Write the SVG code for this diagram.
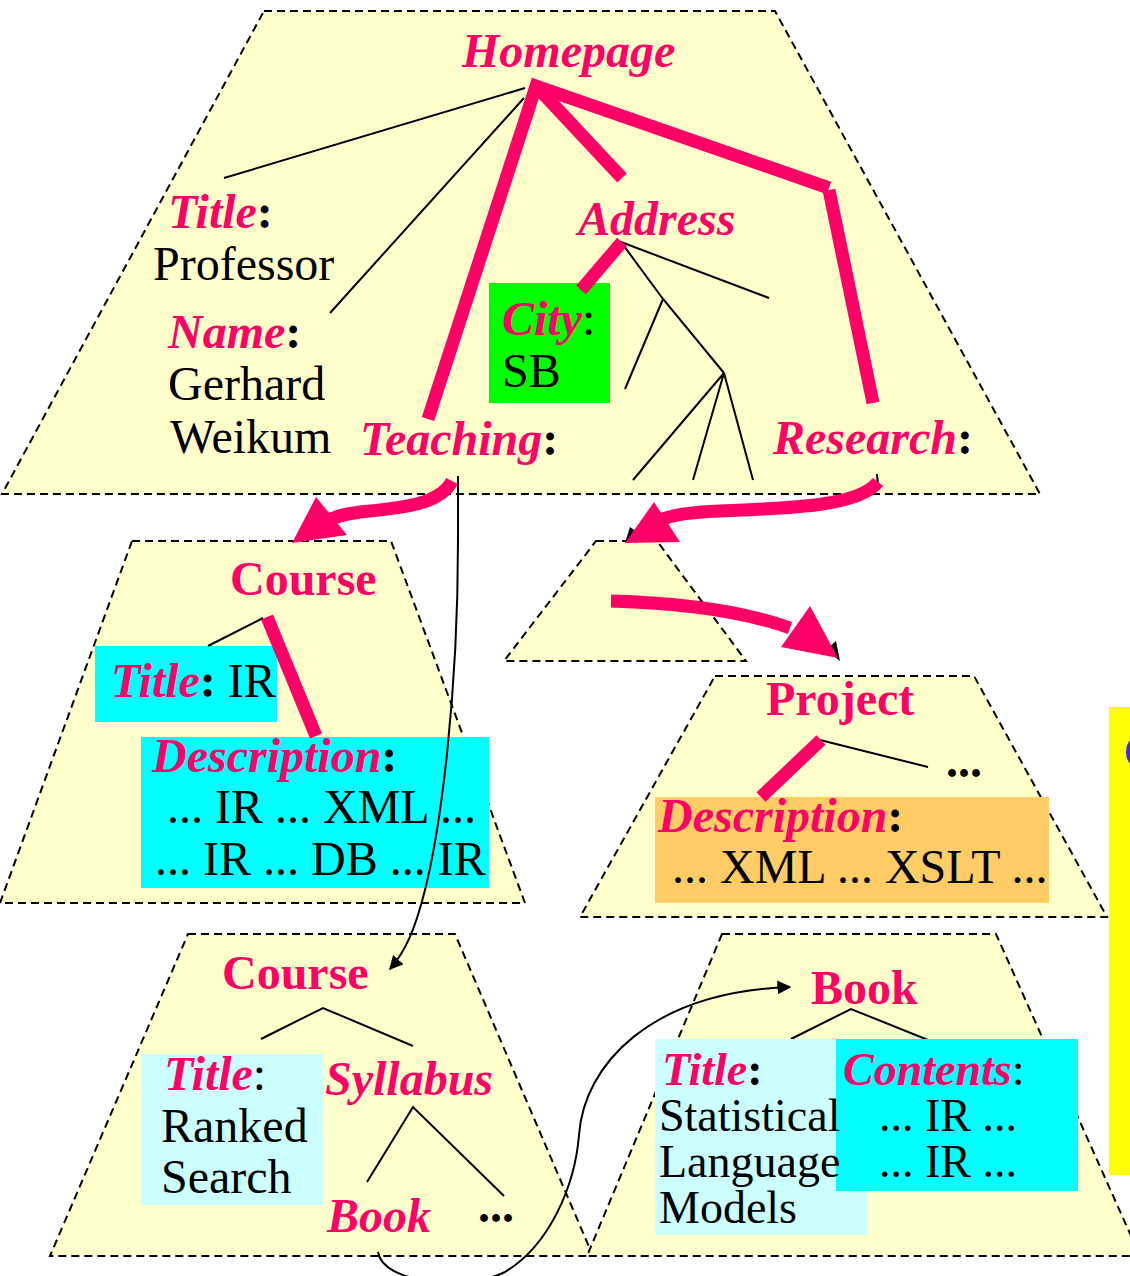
<svg xmlns="http://www.w3.org/2000/svg" width="1130" height="1276" viewBox="0 0 1130 1276">
<defs>
<style>
text{font-family:"Liberation Serif","Times New Roman",serif;font-size:48px;}
.lab{fill:#FF0066;font-weight:bold;font-style:italic;}
.hd{fill:#FF0066;font-weight:bold;}
.tx{fill:#000;}
.b{font-weight:bold;fill:#000;}
.sm{font-size:46px;}
.trap{fill:#FFFFCC;stroke:#000;stroke-width:2;stroke-dasharray:8,5;}
.thin{fill:none;stroke:#000;stroke-width:2;}
.thick{fill:none;stroke:#FF0066;stroke-width:13;}
.parrow{fill:none;stroke:#FF0066;stroke-width:13;}
.ph{fill:#FF0066;}
</style>
<marker id="ah2" viewBox="0 0 10 10" refX="9" refY="5" markerWidth="14" markerHeight="14" markerUnits="userSpaceOnUse" orient="auto"><path d="M0,0 L10,5 L0,10 z" fill="#000"/></marker>
</defs>
<rect x="0" y="0" width="1130" height="1276" fill="#fff"/>

<g id="homepage">
<polygon class="trap" points="264,11 775,11 1040,494 2,494"/>
<text class="lab" x="462" y="67">Homepage</text>
<text x="168" y="228"><tspan class="lab">Title</tspan><tspan class="b">:</tspan></text>
<text class="tx" x="153" y="280">Professor</text>
<text x="168" y="348"><tspan class="lab">Name</tspan><tspan class="b">:</tspan></text>
<text class="tx" x="168" y="400">Gerhard</text>
<text class="tx" x="170" y="453">Weikum</text>
<text x="360" y="455"><tspan class="lab">Teaching</tspan><tspan class="b">:</tspan></text>
<text class="lab" x="578" y="235">Address</text>
<rect x="489" y="283" width="121" height="120" fill="#00FF00"/>
<text x="502" y="335"><tspan class="lab">City</tspan><tspan class="tx">:</tspan></text>
<text class="tx" x="502" y="387">SB</text>
<text x="773" y="454"><tspan class="lab">Research</tspan><tspan class="b">:</tspan></text>
<path class="thin" d="M525,88 L224,178 M524,98 L330,313 M621,242 L769,298 M621,242 L663,299 L724,373 M663,299 L625,389 M724,373 L633,480 M724,373 L693,480 M724,373 L753,480"/>
<path class="thick" d="M428,419 L536,86 L829,188"/>
<path class="thick" d="M536,86 L622,178"/>
<path class="thick" d="M829,190 L873,403"/>
<path class="thick" d="M622,242 L581,290"/>
</g>

<g id="course1">
<polygon class="trap" points="132,541 391,541 525,903 0,903"/>
<text class="hd" x="230" y="595">Course</text>
<rect x="95" y="646" width="182" height="76" fill="#00FFFF"/>
<text x="111" y="697"><tspan class="lab">Title</tspan><tspan class="b">:</tspan><tspan class="tx"> IR</tspan></text>
<rect x="141" y="737" width="348" height="151" fill="#00FFFF"/>
<text x="152" y="772"><tspan class="lab">Description</tspan><tspan class="b">:</tspan></text>
<text class="tx" x="167" y="823">... IR ... XML ...</text>
<text class="tx" x="155" y="875">... IR ... DB ... IR</text>
<path class="thin" d="M263,618 L208,646"/>
<path class="thick" d="M267,617 L316,736"/>
</g>

<g id="research-sub">
<polygon class="trap" points="596,541 657,541 746,661 504,661"/>
</g>

<g id="project">
<polygon class="trap" points="715,676 974,676 1107,917 580,917"/>
<text class="hd" x="766" y="715">Project</text>
<path class="thin" d="M820,740 L928,767"/>
<text class="b" x="946" y="777">...</text>
<rect x="655" y="797" width="394" height="106" fill="#FFCC66"/>
<text x="658" y="832"><tspan class="lab">Description</tspan><tspan class="b">:</tspan></text>
<text class="tx" x="672" y="883">... XML ... XSLT ...</text>
<path class="thick" d="M821,740 L761,797"/>
</g>

<g id="course2">
<polygon class="trap" points="188,934 455,934 593,1256 50,1256"/>
<text class="hd" x="222" y="989">Course</text>
<path class="thin" d="M261,1039 L323,1008 L413,1046"/>
<rect x="141" y="1054" width="182" height="151" fill="#CCFFFF"/>
<text x="164" y="1090"><tspan class="lab">Title</tspan><tspan class="tx">:</tspan></text>
<text class="tx" x="161" y="1142">Ranked</text>
<text class="tx" x="161" y="1193">Search</text>
<text class="lab" x="325" y="1095">Syllabus</text>
<path class="thin" d="M367,1182 L413,1107 L504,1196"/>
<text class="lab" x="327" y="1232">Book</text>
<text class="b" x="478" y="1222">...</text>
</g>

<g id="book">
<polygon class="trap" points="722,934 996,934 1140,1256 587,1256"/>
<text class="hd" x="811" y="1004">Book</text>
<path class="thin" d="M791,1039 L851,1009 L943,1046"/>
<rect x="655" y="1039" width="212" height="196" fill="#CCFFFF"/>
<rect x="836" y="1039" width="242" height="152" fill="#00FFFF"/>
<text class="sm" x="662" y="1085"><tspan class="lab">Title</tspan><tspan class="b">:</tspan></text>
<text class="tx sm" x="659" y="1131">Statistical</text>
<text class="tx sm" x="659" y="1177">Language</text>
<text class="tx sm" x="659" y="1223">Models</text>
<text class="sm" x="843" y="1085"><tspan class="lab">Contents</tspan><tspan class="tx">:</tspan></text>
<text class="tx sm" x="879" y="1131">... IR ...</text>
<text class="tx sm" x="879" y="1177">... IR ...</text>
</g>

<g id="sidebox">
<rect x="1109" y="707" width="30" height="468" fill="#FFFF00"/>
<text x="1124" y="768" fill="#3333CC">C</text>
</g>

<g id="connectors">
<path class="thin" d="M458,476 L458,540 C458,700 440,830 425,890 C415,930 405,952 390,969" marker-end="url(#ah2)"/>
<path class="thin" d="M378,1252 C383,1285 470,1290 505,1272 C550,1245 575,1185 579,1135 C584,1065 650,992 790,987" marker-end="url(#ah2)"/>
<path class="thin" d="M877,474 L878,486"/>
<polygon points="625,543 630,527 641,535" fill="#000"/>
<polygon points="840,661 826,650 836,641" fill="#000"/>
<path class="parrow" d="M452,481 C440,505 400,508 360,512 C345,514 335,516 325,522"/>
<polygon class="ph" points="316,497 347,535 292,543"/>
<path class="parrow" d="M878,482 C860,505 800,508 720,511 C690,512 670,515 658,521"/>
<polygon class="ph" points="654,502 680,542 625,543"/>
<path class="parrow" d="M611,601 C680,603 740,610 790,628"/>
<polygon class="ph" points="781,647 810,606 838,658"/>
</g>
</svg>
